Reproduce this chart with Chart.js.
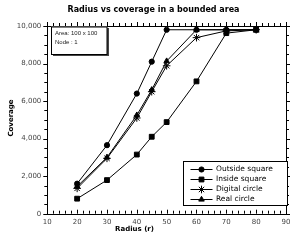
<!DOCTYPE html>
<html>
<head>
<meta charset="utf-8">
<script src="https://cdn.jsdelivr.net/npm/chart.js@4/dist/chart.umd.min.js"></script>
<style>
  html, body { margin: 0; padding: 0; background: #fff; }
  #wrap { width: 291px; height: 240px; }
</style>
</head>
<body>
<div id="wrap"><canvas id="chart" width="291" height="240"></canvas></div>
<script>
// Radius vs coverage — 4 séries, eixo x em raio, eixo y em cobertura
const radius = [20, 30, 40, 45, 50, 60, 70, 80];
const outsideSquare = [1600, 3650, 6400, 8100, 9800, 9800, 9800, 9800];
const insideSquare = [800, 1790, 3150, 4100, 4880, 7050, 9620, 9800];
const digitalCircle = [1350, 2950, 5100, 6500, 7880, 9380, 9740, 9800];
const realCircle = [1450, 3000, 5250, 6600, 8130, 9800, 9800, 9800];
const seriesNames = ["Outside square", "Inside square", "Digital circle", "Real circle"];
const xTicks = [10, 20, 30, 40, 50, 60, 70, 80, 90];
const yTicks = [0, 2000, 4000, 6000, 8000, 10000];
const infoLines = ["Area: 100 x 100", "Node : 1"];

const styles = [
  { pointStyle: "circle", radius: 2.6 },
  { pointStyle: "rect", radius: 3.4 },
  { pointStyle: "star", radius: 3.8 },
  { pointStyle: "triangle", radius: 3.2 },
];

function makeDataset(label, values, i) {
  return {
    label,
    data: values.map((v, k) => ({ x: radius[k], y: v })),
    borderColor: "#000",
    backgroundColor: "#000",
    borderWidth: 1,
    pointStyle: styles[i].pointStyle,
    pointRadius: styles[i].radius,
    pointBorderColor: "#000",
    pointBackgroundColor: "#000",
    pointBorderWidth: 1,
    tension: 0,
  };
}

const frame = {
  id: "frame",
  afterDraw(chart) {
    const ctx = chart.ctx;
    const a = chart.chartArea;
    const xs = chart.scales.x;
    const ys = chart.scales.y;
    ctx.save();
    ctx.strokeStyle = "#000";
    ctx.lineWidth = 1;
    ctx.strokeRect(Math.round(a.left) + 0.5, Math.round(a.top) + 0.5, Math.round(a.right - a.left), Math.round(a.bottom - a.top));

    // ticks: left/right/top para fora, embaixo para dentro
    ctx.beginPath();
    for (let v = xs.min; v <= xs.max; v += 2) {
      const px = Math.round(xs.getPixelForValue(v)) + 0.5;
      const major = v % 10 === 0;
      const len = major ? 4 : 3;
      ctx.moveTo(px, a.bottom);
      ctx.lineTo(px, a.bottom - len);
      ctx.moveTo(px, a.top);
      ctx.lineTo(px, a.top - len);
    }
    for (let v = ys.min; v <= ys.max; v += 500) {
      const py = Math.round(ys.getPixelForValue(v)) + 0.5;
      const major = v % 2000 === 0;
      const len = major ? 4 : 3;
      ctx.moveTo(a.left, py);
      ctx.lineTo(a.left - len, py);
      ctx.moveTo(a.right, py);
      ctx.lineTo(a.right + len, py);
    }
    ctx.stroke();

    // títulos
    ctx.fillStyle = "#000";
    ctx.textAlign = "center";
    ctx.textBaseline = "middle";
    ctx.font = "bold 8px 'DejaVu Sans'";
    ctx.fillText("Radius vs coverage in a bounded area", 153.5, 10);
    ctx.font = "bold 7px 'DejaVu Sans'";
    ctx.fillText("Radius (r)", 134.5, 229);
    ctx.save();
    ctx.translate(11, 118);
    ctx.rotate(-Math.PI / 2);
    ctx.fillText("Coverage", 0, 0);
    ctx.restore();

    // caixa de informação
    ctx.fillStyle = "#444";
    ctx.fillRect(53, 28, 56, 28);
    ctx.fillStyle = "#fff";
    ctx.fillRect(51, 26.5, 56, 28);
    ctx.strokeStyle = "#000";
    ctx.strokeRect(51.5, 27, 55.5, 27.5);
    ctx.fillStyle = "#222";
    ctx.textAlign = "left";
    ctx.font = "6px 'Liberation Sans'";
    infoLines.forEach((t, i) => ctx.fillText(t, 55, 33.5 + i * 9));

    // legenda
    ctx.fillStyle = "#fff";
    ctx.fillRect(183.5, 161.5, 104, 44);
    ctx.strokeStyle = "#000";
    ctx.strokeRect(183.5, 161.5, 104, 44);
    ctx.font = "7.5px 'DejaVu Sans'";
    chart.data.datasets.forEach((ds, i) => {
      const y = 169.5 + i * 10;
      ctx.beginPath();
      ctx.moveTo(190.5, y);
      ctx.lineTo(212.5, y);
      ctx.stroke();
      ctx.fillStyle = "#000";
      Chart.helpers.drawPoint(ctx, { pointStyle: ds.pointStyle, radius: ds.pointRadius, rotation: 0, borderWidth: 1 }, 201.5, y);
      ctx.fillStyle = "#000";
      ctx.fillText(ds.label, 216, y);
    });
    ctx.restore();
  },
};

new Chart(document.getElementById("chart"), {
  type: "line",
  data: {
    datasets: [
      makeDataset(seriesNames[0], outsideSquare, 0),
      makeDataset(seriesNames[1], insideSquare, 1),
      makeDataset(seriesNames[2], digitalCircle, 2),
      makeDataset(seriesNames[3], realCircle, 3),
    ],
  },
  options: {
    responsive: false,
    devicePixelRatio: 1,
    animation: false,
    layout: { padding: { top: 26, right: 4, left: 0, bottom: 0 } },
    plugins: { legend: { display: false }, title: { display: false }, tooltip: { enabled: false } },
    scales: {
      x: {
        type: "linear",
        min: 10,
        max: 90,
        afterBuildTicks: (s) => { s.ticks = xTicks.map((v) => ({ value: v })); },
        ticks: { font: { family: "'DejaVu Sans'", size: 7 }, color: "#444", padding: 4, maxRotation: 0 },
        grid: { display: false, drawTicks: false, tickLength: 0 },
        border: { display: false },
        afterFit: (s) => { s.height = 26.3; s.paddingLeft = 0; s.paddingRight = 0; },
      },
      y: {
        min: 0,
        max: 10000,
        afterBuildTicks: (s) => { s.ticks = yTicks.map((v) => ({ value: v })); },
        ticks: {
          font: { family: "'DejaVu Sans'", size: 7 },
          color: "#444",
          padding: 6,
          callback: (v) => v.toLocaleString("en-US"),
        },
        grid: { display: false, drawTicks: false, tickLength: 0 },
        border: { display: false },
        afterFit: (s) => { s.width = 47.3; s.paddingTop = 0; s.paddingBottom = 0; },
      },
    },
  },
  plugins: [frame],
});
</script>
</body>
</html>
